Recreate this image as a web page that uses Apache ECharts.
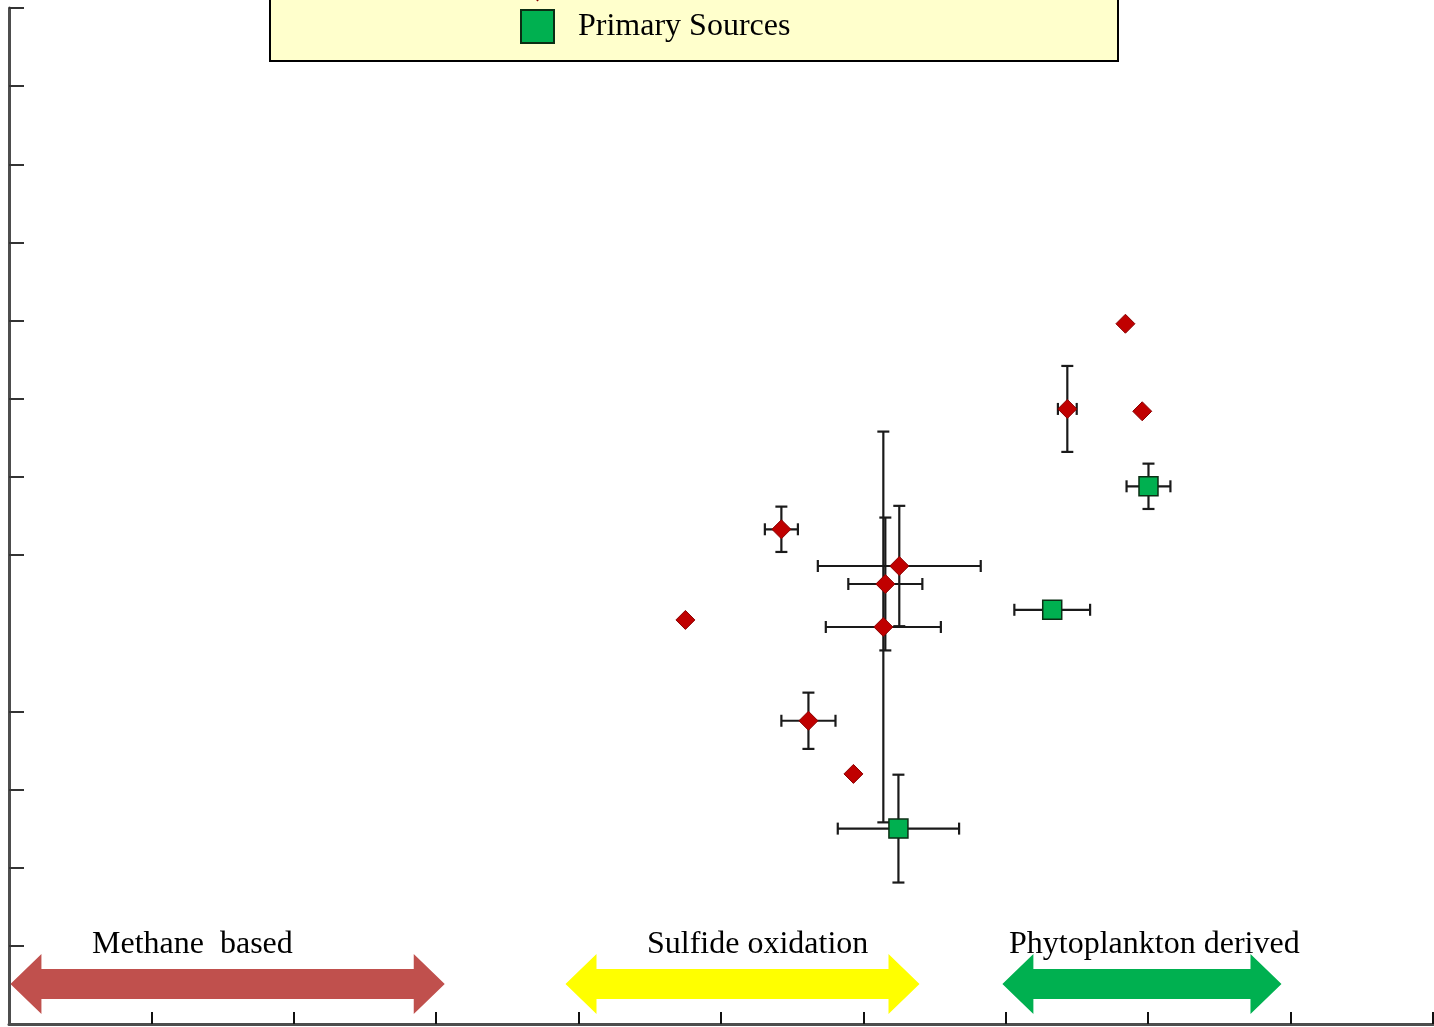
<!DOCTYPE html>
<html><head><meta charset="utf-8">
<script src="https://cdn.jsdelivr.net/npm/echarts@6/dist/echarts.min.js"></script>
<style>html,body{margin:0;padding:0;background:#fff}#chart{width:1434px;height:1027px}</style>
</head><body><div id="chart"></div>
<script>
// x axis: δ13C (‰); y axis unlabelled in the picture
const xTicks = [-55, -50, -45, -40, -35, -30, -25, -20, -15, -10];
const yTicks = [1, 2, 3, 4, 6, 7, 8, 9, 10, 11, 12, 13];

const consumerX    = [-36.25, -32.88, -28.74, -29.23, -29.30, -31.93, -30.35, -22.84, -20.80, -20.21];
const consumerY    = [5.17, 6.33, 5.86, 5.63, 5.08, 3.88, 3.20, 7.87, 8.96, 7.84];
const consumerXErr = [0, 0.58, 2.86, 1.30, 2.02, 0.95, 0, 0.33, 0, 0];
const consumerYErr = [0, 0.29, 0.77, 0.85, 2.50, 0.36, 0, 0.55, 0, 0];

const sourceX    = [-19.99, -23.37, -28.77];
const sourceY    = [6.88, 5.30, 2.50];
const sourceXErr = [0.77, 1.33, 2.13];
const sourceYErr = [0.29, 0, 0.69];

const zoneNames = ['Methane  based', 'Sulfide oxidation', 'Phytoplankton derived'];
const zoneStart = [-59.95, -40.46, -25.12];
const zoneEnd   = [-44.70, -28.03, -15.32];

const zoneColors = ['#C0504D', '#FFFF00', '#00B050'];
const FONT = '"Liberation Serif","Times New Roman",serif';

function pack(xs, ys, exs, eys) {
  return xs.map((x, i) => [x, ys[i], exs[i], eys[i]]);
}

function errRender(params, api) {
  const x = api.value(0), y = api.value(1), ex = api.value(2), ey = api.value(3);
  const c = api.coord([x, y]);
  const st = { stroke: '#1a1a1a', lineWidth: 2.2 };
  const cap = 6;
  const ch = [];
  if (ex > 0) {
    const l = api.coord([x - ex, y])[0], r = api.coord([x + ex, y])[0];
    ch.push({ type: 'line', shape: { x1: l, y1: c[1], x2: r, y2: c[1] }, style: st });
    ch.push({ type: 'line', shape: { x1: l, y1: c[1] - cap, x2: l, y2: c[1] + cap }, style: st });
    ch.push({ type: 'line', shape: { x1: r, y1: c[1] - cap, x2: r, y2: c[1] + cap }, style: st });
  }
  if (ey > 0) {
    const t = api.coord([x, y + ey])[1], b = api.coord([x, y - ey])[1];
    ch.push({ type: 'line', shape: { x1: c[0], y1: t, x2: c[0], y2: b }, style: st });
    ch.push({ type: 'line', shape: { x1: c[0] - cap, y1: t, x2: c[0] + cap, y2: t }, style: st });
    ch.push({ type: 'line', shape: { x1: c[0] - cap, y1: b, x2: c[0] + cap, y2: b }, style: st });
  }
  return { type: 'group', children: ch };
}

function arrowRender(params, api) {
  const x0 = api.coord([api.value(0), 0])[0];
  const x1 = api.coord([api.value(1), 0])[0];
  const base = api.coord([api.value(0), 0])[1];
  const cy = base - 40, hw = 15, hh = 30, hl = 31;
  const pts = [
    [x0, cy], [x0 + hl, cy - hh], [x0 + hl, cy - hw], [x1 - hl, cy - hw], [x1 - hl, cy - hh],
    [x1, cy], [x1 - hl, cy + hh], [x1 - hl, cy + hw], [x0 + hl, cy + hw], [x0 + hl, cy + hh]
  ];
  return { type: 'polygon', shape: { points: pts }, style: { fill: zoneColors[params.dataIndex] } };
}

const chart = echarts.init(document.getElementById('chart'));
chart.setOption({
  animation: false,
  grid: { left: 9, right: 1, top: 8, bottom: 3, containLabel: false },
  xAxis: {
    type: 'value', min: -60, max: -10, interval: 5,
    axisLine: { show: true, onZero: false, lineStyle: { color: '#4d4d4d', width: 3 } },
    axisTick: { show: true, inside: true, length: 12, customValues: xTicks, lineStyle: { color: '#111', width: 2 } },
    axisLabel: { show: false },
    splitLine: { show: false }
  },
  yAxis: {
    type: 'value', min: 0, max: 13, interval: 1,
    axisLine: { show: true, onZero: false, lineStyle: { color: '#4d4d4d', width: 3 } },
    axisTick: { show: true, inside: true, length: 15, customValues: yTicks, lineStyle: { color: '#333', width: 2 } },
    axisLabel: { show: false },
    splitLine: { show: false }
  },
  legend: {
    data: ['Consumers', 'Primary Sources'],
    orient: 'vertical', left: 520, top: -34, padding: 0, itemGap: 8,
    itemWidth: 33, itemHeight: 33, selectedMode: false,
    textStyle: { fontFamily: FONT, fontSize: 32, color: '#000', padding: [0, 0, 4, 19] }
  },
  graphic: [
    { type: 'rect', z: 0, shape: { x: 270, y: -80, width: 848, height: 141 },
      style: { fill: '#FFFFCC', stroke: '#000', lineWidth: 2 } },
    { type: 'text', left: 92, top: 929, z: 10, style: { text: zoneNames[0], font: '32px ' + FONT, fill: '#000' } },
    { type: 'text', left: 647, top: 929, z: 10, style: { text: zoneNames[1], font: '32px ' + FONT, fill: '#000' } },
    { type: 'text', left: 1009, top: 929, z: 10, style: { text: zoneNames[2], font: '32px ' + FONT, fill: '#000' } }
  ],
  series: [
    {
      type: 'custom', name: 'zones', renderItem: arrowRender, z: 1, silent: true,
      encode: { x: [0, 1] },
      data: zoneStart.map((s, i) => [s, zoneEnd[i]])
    },
    {
      type: 'custom', name: 'consumerErr', renderItem: errRender, z: 2, silent: true,
      encode: { x: 0, y: 1 },
      data: pack(consumerX, consumerY, consumerXErr, consumerYErr)
    },
    {
      type: 'custom', name: 'sourceErr', renderItem: errRender, z: 2, silent: true,
      encode: { x: 0, y: 1 },
      data: pack(sourceX, sourceY, sourceXErr, sourceYErr)
    },
    {
      type: 'scatter', name: 'Consumers', symbol: 'diamond', symbolSize: 19, z: 3,
      itemStyle: { color: '#C00000', borderColor: '#8a0000', borderWidth: 1, opacity: 1 },
      data: consumerX.map((x, i) => [x, consumerY[i]])
    },
    {
      type: 'scatter', name: 'Primary Sources', symbol: 'rect', symbolSize: 19, z: 3,
      itemStyle: { color: '#00B050', borderColor: '#0b2e14', borderWidth: 1.5, opacity: 1 },
      data: sourceX.map((x, i) => [x, sourceY[i]])
    }
  ]
});
</script>
</body></html>
